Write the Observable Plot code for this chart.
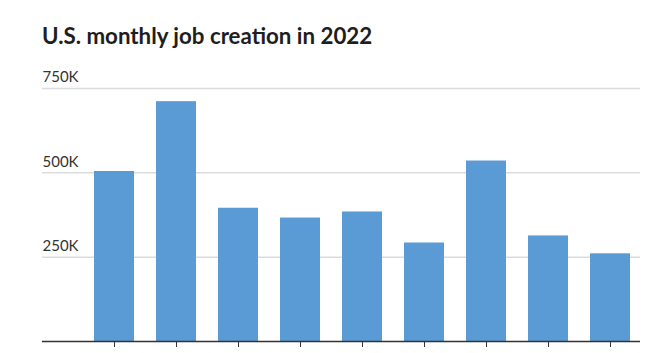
<!DOCTYPE html>
<html>
<head>
<meta charset="utf-8">
<script src="https://cdn.jsdelivr.net/npm/d3@7"></script>
<script src="https://cdn.jsdelivr.net/npm/@observablehq/plot@0.6"></script>
<style>
  html, body { margin: 0; padding: 0; background: #fff; }
  #wrap { width: 660px; height: 353px; overflow: hidden; position: relative; }
  #title { position: absolute; left: 42px; top: 22px; margin: 0; font-family: Lato, sans-serif; font-weight: 700; font-size: 22.3px; color: #1e1e1e; white-space: nowrap; }
  #chart { position: absolute; left: 0; top: 50px; }
</style>
</head>
<body>
<div id="wrap">
  <div id="title">U.S. monthly job creation in 2022</div>
  <div id="chart"></div>
</div>
<script>
const months = ["Jan", "Feb", "Mar", "Apr", "May", "Jun", "Jul", "Aug", "Sep"];
const jobs = [504000, 711000, 395000, 366000, 384000, 292000, 535000, 313000, 260000];
const yTicks = [250000, 500000, 750000];

const data = months.map((m, i) => ({month: m, jobs: jobs[i]}));

const chart = Plot.plot({
  width: 660,
  height: 303,
  marginTop: 38,
  marginBottom: 12,
  marginLeft: 42,
  marginRight: 20,
  style: {fontFamily: "Lato, sans-serif", background: "transparent"},
  x: {domain: months, paddingInner: 0.36, paddingOuter: 0.487, align: 0.83, axis: null, label: null},
  y: {domain: [0, 750000], axis: null, label: null},
  marks: [
    Plot.gridY(yTicks, {stroke: "#dcdcdc", strokeOpacity: 1, strokeWidth: 1.5}),
    Plot.axisY(yTicks, {anchor: "left", label: null, tickSize: 0, tickPadding: 0, textAnchor: "start", dy: -11, fontSize: 15, fill: "#333", tickFormat: d => (d / 1000) + "K"}),
    Plot.barY(data, {x: "month", y: "jobs", fill: "#5b9bd5"}),
    Plot.ruleY([0], {stroke: "#333", strokeWidth: 1.5}),
    Plot.axisX({anchor: "bottom", label: null, tickSize: 6, stroke: "#333", tickFormat: () => ""})
  ]
});
document.getElementById("chart").appendChild(chart);
</script>
</body>
</html>
